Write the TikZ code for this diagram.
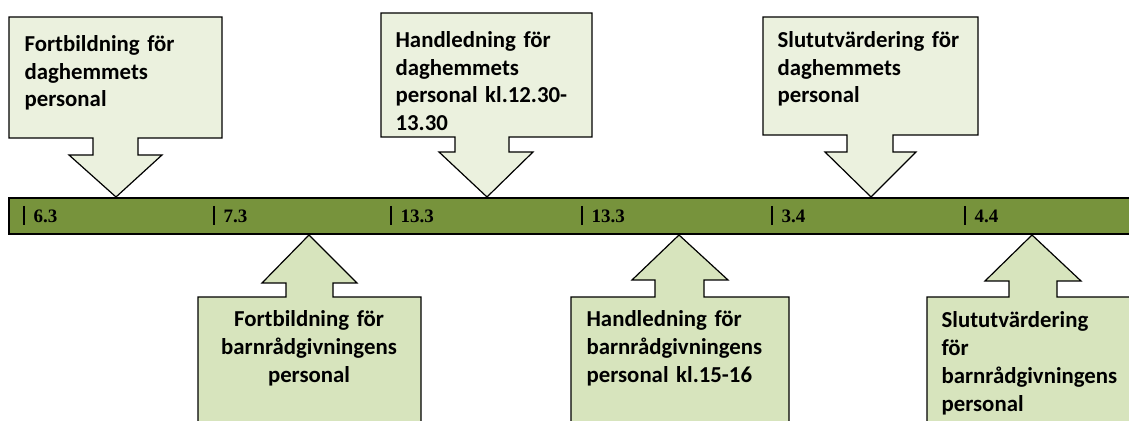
\documentclass[tikz,border=0pt]{standalone}
\usepackage{fontspec}
\setmainfont{Liberation Serif}
\newfontfamily\callfont{Carlito}
\usepackage{tikz}

\definecolor{barolive}{HTML}{77933C}
\definecolor{paletop}{HTML}{EBF1DE}
\definecolor{palebot}{HTML}{D7E4BD}

\begin{document}
\begin{tikzpicture}[x=0.5pt,y=-0.5pt,line width=0.6pt]
\useasboundingbox (0,0) rectangle (1129,421);
\clip (0,0) rectangle (1129,421);
% callouts above the line
\draw[fill=paletop] (9,17)--(222,17)--(222,138)--(138,138)--(138,155)--(162,155)--(116,197)--(69,155)--(93,155)--(93,138)--(9,138)--cycle;
\draw[fill=paletop] (381,13)--(592,13)--(592,137)--(509,137)--(509,152)--(533,152)--(487,197)--(439,152)--(455,152)--(455,137)--(381,137)--cycle;
\draw[fill=paletop] (763,17)--(978,17)--(978,135)--(893,135)--(893,152)--(916,152)--(871,197)--(825,152)--(847,152)--(847,135)--(763,135)--cycle;
% callouts below the line
\draw[fill=palebot] (309,235)--(357,283)--(333,283)--(333,297)--(421,297)--(421,440)--(198,440)--(198,297)--(286,297)--(286,283)--(262,283)--cycle;
\draw[fill=palebot] (679,235)--(728,280)--(704,280)--(704,297)--(789,297)--(789,440)--(571,440)--(571,297)--(655,297)--(655,280)--(632,280)--cycle;
\draw[fill=palebot] (1032,235)--(1081,281)--(1057,281)--(1057,297)--(1140,297)--(1140,440)--(927,440)--(927,297)--(1009,297)--(1009,281)--(985,281)--cycle;
% the line
\draw[fill=barolive] (9,198) rectangle (1140,234);
\draw (24,206)--(24,225);
\draw (214,206)--(214,225);
\draw (391,206)--(391,225);
\draw (582,206)--(582,225);
\draw (772,206)--(772,225);
\draw (965,206)--(965,225);
\node[anchor=base west,inner sep=0,font=\bfseries\fontsize{9.5}{11}\selectfont] (d1) at (33,223) {6.3};
\node[anchor=base west,inner sep=0,font=\bfseries\fontsize{9.5}{11}\selectfont] (d2) at (223,223) {7.3};
\node[anchor=base west,inner sep=0,font=\bfseries\fontsize{9.5}{11}\selectfont] (d3) at (400,223) {13.3};
\node[anchor=base west,inner sep=0,font=\bfseries\fontsize{9.5}{11}\selectfont] (d4) at (591,223) {13.3};
\node[anchor=base west,inner sep=0,font=\bfseries\fontsize{9.5}{11}\selectfont] (d5) at (781,223) {3.4};
\node[anchor=base west,inner sep=0,font=\bfseries\fontsize{9.5}{11}\selectfont] (d6) at (974,223) {4.4};
% texts
\node[anchor=base west,inner sep=0,text width=98pt,align=left,font=\callfont\bfseries\fontsize{11.4}{13.75}\selectfont] (t1) at (24,52) {Fortbildning för\\daghemmets\\personal};
\node[anchor=base west,inner sep=0,text width=98pt,align=left,font=\callfont\bfseries\fontsize{11.4}{13.75}\selectfont] (t2) at (395,48) {Handledning för\\daghemmets\\personal kl.12.30-\\13.30};
\node[anchor=base west,inner sep=0,text width=98pt,align=left,font=\callfont\bfseries\fontsize{11.4}{13.75}\selectfont] (t3) at (777,48) {Slututvärdering för\\daghemmets\\personal};
\node[anchor=base,inner sep=0,text width=104pt,align=center,font=\callfont\bfseries\fontsize{11.4}{14}\selectfont] (t4) at (309,327) {Fortbildning för\\barnrådgivningens\\personal};
\node[anchor=base west,inner sep=0,text width=100pt,align=left,font=\callfont\bfseries\fontsize{11.4}{14}\selectfont] (t5) at (586,327) {Handledning för\\barnrådgivningens\\personal kl.15-16};
\node[anchor=base west,inner sep=0,text width=100pt,align=left,font=\callfont\bfseries\fontsize{11.4}{14}\selectfont] (t6) at (941,328) {Slututvärdering\\för\\barnrådgivningens\\personal};
\end{tikzpicture}
\end{document}
